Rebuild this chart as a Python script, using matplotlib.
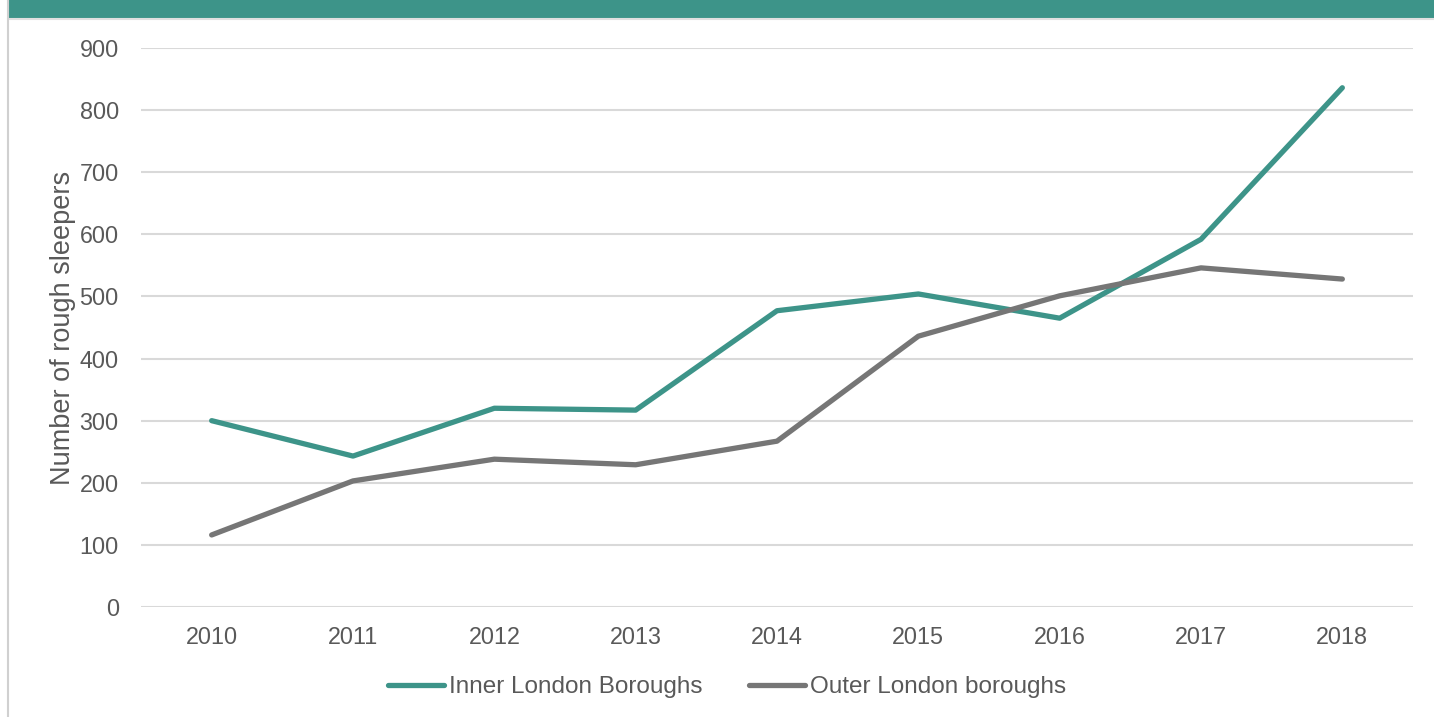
import matplotlib
matplotlib.use("Agg")
import matplotlib.pyplot as plt
from matplotlib.patches import Rectangle
from matplotlib.lines import Line2D

years = [2010, 2011, 2012, 2013, 2014, 2015, 2016, 2017, 2018]
inner = [300, 243, 320, 317, 477, 504, 465, 592, 836]
outer = [116, 203, 238, 229, 267, 436, 501, 546, 528]
series_names = ["Inner London Boroughs", "Outer London boroughs"]
y_ticks = [0, 100, 200, 300, 400, 500, 600, 700, 800, 900]
y_label = "Number of rough sleepers"

TEAL = "#3d9489"
GREY = "#767676"
TEXT = "#595959"
GRID = "#d9d9d9"

plt.rcParams["font.family"] = ["Liberation Sans", "DejaVu Sans"]

W, H = 1434, 717
DPI = 100
fig = plt.figure(figsize=(W / DPI, H / DPI), dpi=DPI)

# banner and frame
fig.patches.append(Rectangle((8 / W, 1 - 17 / H), 1 - 8 / W, 17 / H,
                             transform=fig.transFigure, color=TEAL, zorder=0))
fig.lines.append(Line2D([8 / W, 1], [1 - 18.5 / H, 1 - 18.5 / H],
                        transform=fig.transFigure, color="#e0e0e0", lw=1.5))
fig.lines.append(Line2D([7.5 / W, 7.5 / W], [0, 1],
                        transform=fig.transFigure, color="#d0d0d0", lw=1.5))

ax = fig.add_axes([141 / W, 1 - 607 / H, (1413 - 141) / W, (607 - 48) / H])
series = [(inner, TEAL), (outer, GREY)]
for (vals, col), name in zip(series, series_names):
    ax.plot(years, vals, color=col, lw=3.8, solid_capstyle="round",
            solid_joinstyle="round", label=name, zorder=3)

ax.set_xlim(years[0] - 0.5, years[-1] + 0.5)
ax.set_ylim(0, 900)
ax.set_xticks(years)
ax.set_xticklabels([str(y) for y in years])
ax.set_yticks(y_ticks)
ax.yaxis.grid(True, color=GRID, lw=1.5)
ax.set_axisbelow(True)
for s in ax.spines.values():
    s.set_visible(False)
ax.tick_params(axis="both", length=0, colors=TEXT, labelsize=16.8)
ax.tick_params(axis="y", pad=16)
ax.tick_params(axis="x", pad=14)
ax.set_ylabel(y_label, color=TEXT, fontsize=19.5)
ax.yaxis.set_label_coords(-(141 - 76) / (1413 - 141), 0.5)

# legend (handles + labels), positions in pixels
leg = fig.legend(loc="center", bbox_to_anchor=(727 / W, 1 - 687 / H), ncol=2,
                 frameon=False, fontsize=17.5, handlelength=2.3,
                 handletextpad=0.2, columnspacing=1.9)
for t in leg.get_texts():
    t.set_color(TEXT)

fig.savefig("out.png", dpi=DPI)
